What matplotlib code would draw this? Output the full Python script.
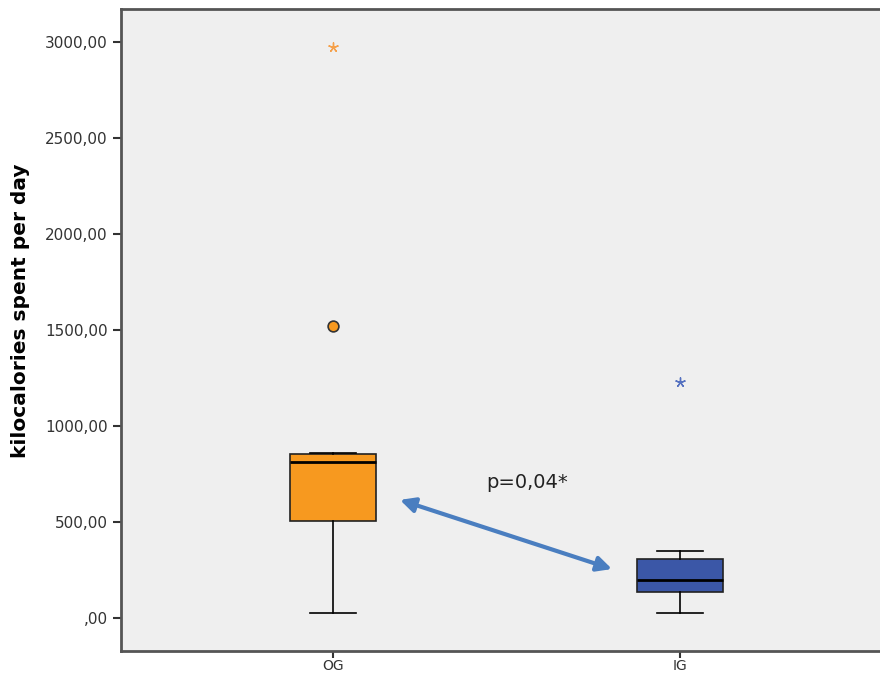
import matplotlib.pyplot as plt
from matplotlib.ticker import FuncFormatter

# Box statistics (kcal per day)
groups = ["OG", "IG"]
whisker_low = [26, 26]
q1 = [505, 135]
median = [810, 198]
q3 = [855, 307]
whisker_high = [858, 349]
# Outliers: circles (mild) and stars (extreme)
mild_outliers = [[1521], []]
extreme_outliers = [[2974], [1229]]

box_colors = ["#F7991F", "#3B57A7"]
star_colors = ["#F5A04A", "#5571C0"]
yticks = [0, 500, 1000, 1500, 2000, 2500, 3000]

fig = plt.figure(figsize=(8.8, 6.77), dpi=100)
ax = fig.add_axes([121 / 880, 26 / 677, 759 / 880, 642 / 677])
ax.set_facecolor("#EFEFEF")

stats = []
for i, g in enumerate(groups):
    stats.append(dict(label=g, whislo=whisker_low[i], q1=q1[i], med=median[i],
                      q3=q3[i], whishi=whisker_high[i], fliers=[]))
pos = [1, 2]
bp = ax.bxp(stats, positions=pos, widths=0.25, patch_artist=True,
            showfliers=False,
            medianprops=dict(color="black", linewidth=2),
            whiskerprops=dict(color="black", linewidth=1.2),
            capprops=dict(color="black", linewidth=1.2),
            boxprops=dict(edgecolor="#222222", linewidth=1.2))
for patch, c in zip(bp["boxes"], box_colors):
    patch.set_facecolor(c)
for cap in bp["caps"]:
    x0, x1 = cap.get_xdata()
    m = (x0 + x1) / 2
    cap.set_xdata([m - 0.065, m + 0.065])

for i, p in enumerate(pos):
    ys = mild_outliers[i]
    if ys:
        ax.scatter([p] * len(ys), ys, s=60, marker="o", facecolor=box_colors[i],
                   edgecolor="#333333", linewidth=1.2, zorder=3)
    ys = extreme_outliers[i]
    if ys:
        ax.scatter([p] * len(ys), ys, s=45, marker=(5, 2, 0), color=star_colors[i],
                   linewidth=1.0, zorder=3)

# Significance arrow and label
ax.annotate("", xy=(1.804, 255), xytext=(1.193, 615),
            arrowprops=dict(arrowstyle="<|-|>", color="#4A7EC0", lw=3,
                            mutation_scale=22, shrinkA=0, shrinkB=0))
ax.text(1.56, 708, "p=0,04*", fontsize=14, ha="center", va="center", color="#222222")

ax.set_xlim(1 - 212 / 347, 1 - 212 / 347 + 759 / 347)
ax.set_ylim(-172, 3172)
ax.set_xticks(pos)
ax.set_xticklabels(groups)
ax.set_yticks(yticks)
ax.yaxis.set_major_formatter(FuncFormatter(
    lambda v, _: ",00" if v == 0 else f"{int(v)},00"))
ax.tick_params(axis="y", labelsize=11, color="#333333", labelcolor="#333333",
               length=6, width=1.5)
ax.tick_params(axis="x", labelsize=10, color="#333333", labelcolor="#333333",
               length=5, width=1.5, pad=1)
ax.set_ylabel("kilocalories spent per day", fontsize=14.5, fontweight="bold")
ax.yaxis.set_label_coords(-0.12, 0.53)
for side in ["left", "top", "bottom"]:
    ax.spines[side].set_color("#555555")
    ax.spines[side].set_linewidth(2)
ax.spines["right"].set_visible(False)

fig.savefig("out.png", dpi=100)
